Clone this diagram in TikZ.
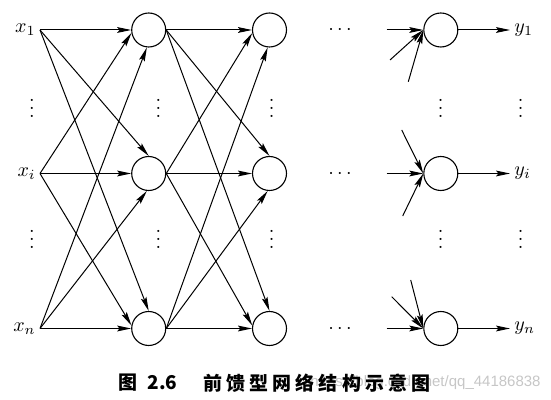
\documentclass[tikz,border=0pt]{standalone}
\usepackage{fontspec}
\newfontfamily\cjk{Noto Sans CJK SC}
\newfontfamily\wmfont{Liberation Sans}
\usetikzlibrary{arrows.meta}
\newcommand\myvdots{\vbox{\baselineskip4pt \lineskiplimit0pt \hbox{.}\hbox{.}\hbox{.}}}
\begin{document}
\begin{tikzpicture}[x=0.5pt,y=-0.5pt,
  neuron/.style={circle,draw,line width=0.55pt,minimum size=17pt,inner sep=0pt},
  conn/.style={line width=0.5pt,-{Stealth[length=7pt,width=2.9pt,inset=1.2pt]}},
  lbl/.style={inner sep=1pt},
  dotsnode/.style={anchor=base,inner sep=0pt},
  vdotsnode/.style={inner sep=0pt},
  capfont/.style={anchor=west,inner sep=0pt,font=\cjk\bfseries\fontsize{9.5}{11}\selectfont}]
\useasboundingbox (0,0) rectangle (551,400);

% input points and labels
\coordinate (i1) at (40,30);
\coordinate (i2) at (40,173.5);
\coordinate (i3) at (40,328.5);
\node[lbl,anchor=east] (lx1) at (38,30) {$x_1$};
\node[lbl,anchor=east] (lx2) at (38,173.5) {$x_i$};
\node[lbl,anchor=east] (lx3) at (38,328.5) {$x_n$};

% layer 1
\node[neuron] (a1) at (148.7,30) {};
\node[neuron] (a2) at (148.7,173.5) {};
\node[neuron] (a3) at (148.7,328.5) {};
% layer 2
\node[neuron] (b1) at (269.5,30) {};
\node[neuron] (b2) at (269.5,173.5) {};
\node[neuron] (b3) at (269.5,328.5) {};
% output layer
\node[neuron] (c1) at (440.8,30) {};
\node[neuron] (c2) at (440.8,173.5) {};
\node[neuron] (c3) at (440.8,328.5) {};

% input -> layer 1
\foreach \s/\t in {i1/a1.west, i1/a2.north, i1/a3.north,
                   i2/a1.190, i2/a2.west, i2/a3.170,
                   i3/a1.264, i3/a2.264, i3/a3.west}
  \draw[conn] (\s) -- (\t);

% layer 1 -> layer 2
\foreach \s/\t in {a1.east/b1.west, a1.east/b2.north, a1.east/b3.north,
                   a2.east/b1.190, a2.east/b2.west, a2.east/b3.170,
                   a3.east/b1.264, a3.east/b2.264, a3.east/b3.west}
  \draw[conn] (\s) -- (\t);

% incoming stubs of the output layer
\coordinate (p11) at (386.7,30);
\coordinate (p12) at (390,60);
\coordinate (p13) at (408.3,81.7);
\coordinate (p21) at (401.7,130);
\coordinate (p22) at (386.7,173.5);
\coordinate (p23) at (402.7,216);
\coordinate (p31) at (391.7,296.7);
\coordinate (p32) at (410.7,280);
\coordinate (p33) at (386.7,328.5);
\foreach \s/\t in {p11/c1, p12/c1, p13/c1, p21/c2, p22/c2, p23/c2, p31/c3, p32/c3, p33/c3}
  \draw[conn] (\s) -- (\t.west);

% outputs
\coordinate (o1) at (510,30);
\coordinate (o2) at (510,173.5);
\coordinate (o3) at (510,328.5);
\foreach \k in {1,2,3}
  \draw[conn] (c\k.east) -- (o\k);
\node[lbl,anchor=west] (ly1) at (512,30) {$y_1$};
\node[lbl,anchor=west] (ly2) at (512,173.5) {$y_i$};
\node[lbl,anchor=west] (ly3) at (512,328.5) {$y_n$};

% horizontal dots
\node[dotsnode] (hd1) at (340,35) {$\cdots$};
\node[dotsnode] (hd2) at (340,178.5) {$\cdots$};
\node[dotsnode] (hd3) at (340,333.5) {$\cdots$};

% vertical dots
\foreach \x [count=\n] in {32,158.3,271.7,440.7,520.7} {
  \node[vdotsnode] (vu\n) at (\x,108.5) {\myvdots};
  \node[vdotsnode] (vl\n) at (\x,239.5) {\myvdots};
}

% watermark and caption
\node[anchor=east,inner sep=0pt,text=gray!45,font=\wmfont\fontsize{7.5}{9}\selectfont] (wm) at (541,383) {https://blog.csdn.net/qq\_44186838};
\node[capfont] (cap1) at (118,383) {\makebox[29.5pt][s]{图\hfil 2.6}};
\node[capfont] (cap2) at (203,383) {\makebox[113.5pt][s]{前\hfil 馈\hfil 型\hfil 网\hfil 络\hfil 结\hfil 构\hfil 示\hfil 意\hfil 图}};
\end{tikzpicture}
\end{document}
